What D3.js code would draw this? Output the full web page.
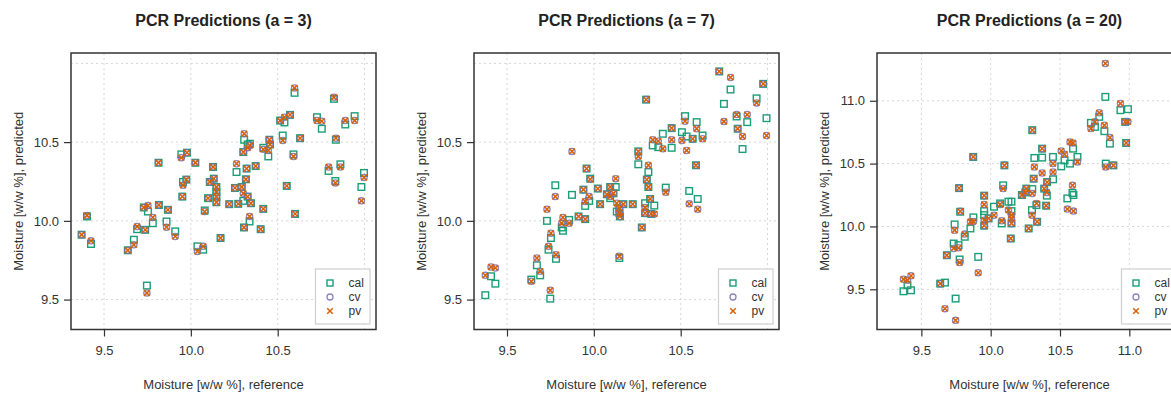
<!DOCTYPE html>
<html><head><meta charset="utf-8">
<script src="https://cdn.jsdelivr.net/npm/d3@7"></script>
<style>
body{margin:0;background:#fff}
svg{display:block}
text{font-family:"Liberation Sans",Arial,Helvetica,sans-serif}
</style>
</head><body>
<svg id="chart" width="1171" height="395"></svg>
<script>
// ---------- data ----------
const seriesNames = ["cal", "cv", "pv"];
const titles = ["PCR Predictions (a = 3)", "PCR Predictions (a = 7)", "PCR Predictions (a = 20)"];
const xLabel = "Moisture [w/w %], reference";
const yLabel = "Moisture [w/w %], predicted";
const ticksSmall = [9.5, 10.0, 10.5];
const ticksLarge = [9.5, 10.0, 10.5, 11.0];
const gridValues = [9.5, 10.0, 10.5, 11.0];

// a = 3
const ref3 = [10.597,10.824,10.514,10.539,10.571,10.726,10.754,10.889,10.943,10.307,10.340,10.302,10.327,10.417,10.446,10.452,10.456,10.529,10.629,10.591,10.835,10.793,10.861,10.997,10.982,10.832,10.552,9.814,9.945,9.978,10.026,10.128,10.263,10.321,10.373,10.317,9.955,9.974,10.109,10.132,10.147,10.254,10.293,9.951,10.099,10.147,10.147,10.147,10.221,10.273,10.302,10.327,10.346,10.417,10.338,10.306,10.402,10.600,9.402,9.371,9.425,9.637,9.672,9.691,9.737,9.729,9.753,9.781,9.816,9.868,9.860,9.910,10.038,10.071,10.080,10.171,9.747];
const cal3 = [10.813,10.775,10.637,10.625,10.673,10.658,10.585,10.612,10.665,10.515,10.490,10.437,10.485,10.464,10.409,10.515,10.485,10.542,10.525,10.422,10.515,10.317,10.359,10.304,10.215,10.253,10.222,10.369,10.422,10.433,10.369,10.342,10.310,10.332,10.348,10.264,10.247,10.262,10.247,10.268,10.215,10.209,10.215,10.154,10.144,10.182,10.154,10.118,10.106,10.108,10.127,10.154,10.112,10.076,9.996,9.958,9.947,10.044,10.028,9.912,9.853,9.813,9.880,9.947,9.943,10.085,10.059,9.985,10.101,10.070,9.996,9.933,9.838,9.817,10.066,9.891,9.589];
const cv3 = [10.844,10.785,10.637,10.658,10.673,10.637,10.633,10.637,10.637,10.553,10.479,10.437,10.464,10.454,10.447,10.515,10.485,10.511,10.525,10.409,10.525,10.342,10.342,10.275,10.127,10.241,10.222,10.369,10.401,10.433,10.369,10.342,10.363,10.332,10.348,10.264,10.226,10.262,10.247,10.268,10.215,10.209,10.215,10.154,10.144,10.182,10.154,10.118,10.106,10.108,10.175,10.154,10.112,10.076,10.028,9.958,9.947,10.044,10.034,9.912,9.873,9.813,9.848,9.964,9.943,10.085,10.097,10.022,10.101,10.070,9.960,9.901,9.806,9.838,10.059,9.891,9.542];
const pv3 = [10.844,10.785,10.637,10.658,10.673,10.637,10.633,10.637,10.637,10.553,10.479,10.437,10.464,10.454,10.447,10.515,10.485,10.511,10.525,10.409,10.525,10.342,10.342,10.275,10.127,10.241,10.222,10.369,10.401,10.433,10.369,10.342,10.363,10.332,10.348,10.264,10.226,10.262,10.247,10.268,10.215,10.209,10.215,10.154,10.144,10.182,10.154,10.118,10.106,10.108,10.175,10.154,10.112,10.076,10.028,9.958,9.947,10.044,10.034,9.912,9.873,9.813,9.848,9.964,9.943,10.085,10.097,10.022,10.101,10.070,9.960,9.901,9.806,9.838,10.059,9.891,9.542];

// a = 7
const ref7 = [10.722,10.787,10.975,10.749,10.937,10.822,10.883,10.994,10.828,10.856,10.301,9.874,10.525,10.592,10.448,10.397,10.339,10.371,10.448,10.507,10.534,10.569,10.626,10.588,10.256,10.256,10.314,10.305,10.314,9.958,9.979,9.778,10.126,9.940,10.023,10.094,10.414,10.549,9.730,9.822,9.815,9.858,9.912,9.950,9.950,9.973,10.036,10.075,10.094,10.113,10.132,10.147,10.147,10.150,10.170,10.224,10.295,10.295,10.324,10.330,10.348,10.276,10.147,10.598,9.753,9.739,9.782,9.672,9.691,9.640,9.749,9.375,9.408,9.433];
const cal7 = [10.949,10.834,10.870,10.743,10.778,10.663,10.627,10.652,10.585,10.456,10.770,10.165,10.665,10.627,10.589,10.553,10.479,10.468,10.464,10.563,10.536,10.521,10.542,10.353,10.441,10.359,10.310,10.262,10.215,10.332,10.268,10.226,10.215,10.198,10.205,10.215,10.211,10.190,10.000,9.937,9.958,10.006,10.028,10.011,10.095,10.127,10.106,10.169,10.144,10.175,10.059,10.080,10.049,10.028,10.106,10.106,10.112,10.049,10.139,10.044,10.097,9.958,9.764,10.139,9.891,9.817,9.759,9.718,9.654,9.627,9.506,9.528,9.648,9.601];
const cv7 = [10.949,10.911,10.870,10.631,10.749,10.675,10.675,10.542,10.585,10.536,10.770,10.441,10.633,10.585,10.589,10.458,10.515,10.506,10.515,10.511,10.447,10.521,10.521,10.353,10.441,10.409,10.353,10.262,10.215,10.332,10.264,10.154,10.268,10.198,10.205,10.215,10.182,10.108,10.074,10.022,9.985,9.985,10.028,10.011,10.123,10.154,10.106,10.169,10.154,10.175,10.112,10.080,10.049,10.028,10.106,10.106,10.085,10.049,10.139,10.044,10.044,9.958,9.775,10.074,9.922,9.838,9.785,9.764,9.680,9.616,9.559,9.654,9.707,9.701];
const pv7 = [10.949,10.911,10.870,10.631,10.749,10.675,10.675,10.542,10.585,10.536,10.770,10.441,10.633,10.585,10.589,10.458,10.515,10.506,10.515,10.511,10.447,10.521,10.521,10.353,10.441,10.409,10.353,10.262,10.215,10.332,10.264,10.154,10.268,10.198,10.205,10.215,10.182,10.108,10.074,10.022,9.985,9.985,10.028,10.011,10.123,10.154,10.106,10.169,10.154,10.175,10.112,10.080,10.049,10.028,10.106,10.106,10.085,10.049,10.139,10.044,10.044,9.958,9.775,10.074,9.922,9.838,9.785,9.764,9.680,9.616,9.559,9.654,9.707,9.701];

// a = 20
const ref20 = [10.827,10.820,10.860,10.936,10.990,10.970,10.977,10.783,10.723,10.752,10.830,10.885,10.300,9.874,10.099,10.371,10.315,10.371,10.449,10.509,10.533,10.572,10.594,10.626,10.590,10.310,10.407,10.450,10.090,9.772,10.257,10.386,9.371,9.425,9.400,9.636,9.670,9.747,9.910,9.684,9.733,9.768,9.776,9.740,9.780,9.813,9.854,9.875,9.953,9.953,9.953,9.953,9.985,10.024,10.068,10.080,10.128,10.150,10.150,10.150,10.145,10.274,10.335,10.298,10.330,10.400,10.225,10.250,10.300,10.405,10.553,10.597];
const cal20 = [11.031,10.758,10.659,10.925,10.933,10.832,10.664,10.872,10.824,10.792,10.500,10.486,10.766,10.553,10.486,10.619,10.545,10.548,10.553,10.478,10.526,10.500,10.619,10.553,10.266,10.380,10.353,10.375,10.327,10.305,10.301,10.301,9.484,9.492,9.532,9.545,9.553,9.426,9.758,9.771,9.864,9.851,9.737,10.016,10.117,9.918,9.984,10.072,10.245,10.090,10.122,10.006,10.064,10.157,10.183,10.024,10.197,10.197,10.122,10.024,9.904,9.984,10.037,10.130,10.170,10.165,10.250,10.271,10.297,10.245,10.223,10.250];
const cv20 = [11.297,10.805,10.707,10.978,10.832,10.832,10.664,10.904,10.779,10.832,10.473,10.486,10.766,10.553,10.486,10.619,10.473,10.425,10.500,10.601,10.574,10.672,10.664,10.513,10.327,10.380,10.353,10.433,10.301,10.305,10.301,10.301,9.580,9.607,9.572,9.545,9.346,9.253,9.631,9.771,9.825,9.830,9.713,9.970,10.120,9.939,10.037,10.040,10.245,10.175,10.050,10.006,10.064,10.090,10.175,10.045,10.130,10.090,10.064,10.024,9.904,9.984,10.037,10.090,10.183,10.165,10.250,10.271,10.263,10.271,10.138,10.122];
const pv20 = [11.297,10.805,10.707,10.978,10.832,10.832,10.664,10.904,10.779,10.832,10.473,10.486,10.766,10.553,10.486,10.619,10.473,10.425,10.500,10.601,10.574,10.672,10.664,10.513,10.327,10.380,10.353,10.433,10.301,10.305,10.301,10.301,9.580,9.607,9.572,9.545,9.346,9.253,9.631,9.771,9.825,9.830,9.713,9.970,10.120,9.939,10.037,10.040,10.245,10.175,10.050,10.006,10.064,10.090,10.175,10.045,10.130,10.090,10.064,10.024,9.904,9.984,10.037,10.090,10.183,10.165,10.250,10.271,10.263,10.271,10.138,10.122];

const limits7 = [9.31, 11.066];
const limits20 = [9.18, 11.38];

// ---------- layout / style ----------
const colors = {cal: "#1B9E77", cv: "#7570B3", pv: "#D95F02"};
const panelDefs = [
  {title: titles[0], ref: ref3, cal: cal3, cv: cv3, pv: pv3, x0: 71, lim: limits7, ticks: ticksSmall},
  {title: titles[1], ref: ref7, cal: cal7, cv: cv7, pv: pv7, x0: 474, lim: limits7, ticks: ticksSmall},
  {title: titles[2], ref: ref20, cal: cal20, cv: cv20, pv: pv20, x0: 877, lim: limits20, ticks: ticksLarge}
];
const plotW = 305, plotTop = 53, plotBottom = 329.5;

const svg = d3.select("#chart");
svg.append("rect").attr("width", 1171).attr("height", 395).attr("fill", "#fff");

panelDefs.forEach(p => {
  const x = d3.scaleLinear().domain(p.lim).range([p.x0, p.x0 + plotW]);
  const y = d3.scaleLinear().domain(p.lim).range([plotBottom, plotTop]);
  const g = svg.append("g");
  const cx = p.x0 + plotW / 2;

  // title
  g.append("text").attr("x", cx).attr("y", 26).attr("text-anchor", "middle")
    .attr("font-size", 16).attr("font-weight", "bold").attr("fill", "#222").text(p.title);

  // grid
  const gv = gridValues.filter(v => v > p.lim[0] && v < p.lim[1]);
  g.selectAll(".gx").data(gv).enter().append("line")
    .attr("x1", d => x(d)).attr("x2", d => x(d)).attr("y1", plotTop).attr("y2", plotBottom)
    .attr("stroke", "#d6d6d6").attr("stroke-width", 1).attr("stroke-dasharray", "2,3");
  g.selectAll(".gy").data(gv).enter().append("line")
    .attr("y1", d => y(d)).attr("y2", d => y(d)).attr("x1", p.x0).attr("x2", p.x0 + plotW)
    .attr("stroke", "#d6d6d6").attr("stroke-width", 1).attr("stroke-dasharray", "2,3");

  // axes
  const xAxis = d3.axisBottom(x).tickValues(p.ticks).tickFormat(d3.format(".1f")).tickSize(7).tickPadding(9);
  const yAxis = d3.axisLeft(y).tickValues(p.ticks).tickFormat(d3.format(".1f")).tickSize(7).tickPadding(5);
  const gx = g.append("g").attr("transform", `translate(0,${plotBottom})`).call(xAxis);
  const gy = g.append("g").attr("transform", `translate(${p.x0},0)`).call(yAxis);
  [gx, gy].forEach(a => {
    a.select(".domain").remove();
    a.selectAll(".tick line").attr("stroke", "#333").attr("stroke-width", 1.2);
    a.selectAll(".tick text").attr("font-size", 13).attr("fill", "#333")
      .attr("font-family", "'Liberation Sans',Arial,sans-serif");
  });

  // axis labels
  g.append("text").attr("x", cx).attr("y", 389).attr("text-anchor", "middle")
    .attr("font-size", 13).attr("fill", "#333").text(xLabel);
  g.append("text").attr("transform", `translate(${p.x0 - 48.5},${(plotTop + plotBottom) / 2}) rotate(-90)`)
    .attr("text-anchor", "middle").attr("font-size", 13).attr("fill", "#333").text(yLabel);

  // points
  const clipId = "clip" + p.x0;
  svg.append("clipPath").attr("id", clipId).append("rect")
    .attr("x", p.x0).attr("y", plotTop).attr("width", plotW).attr("height", plotBottom - plotTop);
  const pts = g.append("g").attr("clip-path", `url(#${clipId})`);
  const s = 3.3;
  pts.selectAll(".cal").data(p.ref.map((r, i) => [r, p.cal[i]])).enter().append("rect")
    .attr("x", d => x(d[0]) - s).attr("y", d => y(d[1]) - s).attr("width", 2 * s).attr("height", 2 * s)
    .attr("fill", "none").attr("stroke", colors.cal).attr("stroke-width", 1.4);
  pts.selectAll(".cv").data(p.ref.map((r, i) => [r, p.cv[i]])).enter().append("circle")
    .attr("cx", d => x(d[0])).attr("cy", d => y(d[1])).attr("r", 3.1)
    .attr("fill", "none").attr("stroke", colors.cv).attr("stroke-width", 1.3).attr("opacity", 0.85);
  const h = 2.9;
  pts.selectAll(".pv").data(p.ref.map((r, i) => [r, p.pv[i]])).enter().append("path")
    .attr("d", d => {
      const px = x(d[0]), py = y(d[1]);
      return `M${px - h},${py - h}L${px + h},${py + h}M${px - h},${py + h}L${px + h},${py - h}`;
    })
    .attr("stroke", colors.pv).attr("stroke-width", 1.5).attr("fill", "none");

  // box
  g.append("rect").attr("x", p.x0).attr("y", plotTop).attr("width", plotW).attr("height", plotBottom - plotTop)
    .attr("fill", "none").attr("stroke", "#333").attr("stroke-width", 1.5);

  // legend
  const lx = p.x0 + plotW - 60.5, ly = plotBottom - 60.5;
  const lg = g.append("g").attr("transform", `translate(${lx},${ly})`);
  lg.append("rect").attr("width", 54.5).attr("height", 55).attr("fill", "#fff")
    .attr("stroke", "#cfcfcf").attr("stroke-width", 1.2);
  seriesNames.forEach((name, i) => {
    const ry = 14 + i * 14;
    const mx = 14.5;
    if (name === "cal") {
      lg.append("rect").attr("x", mx - 3).attr("y", ry - 3).attr("width", 6).attr("height", 6)
        .attr("fill", "none").attr("stroke", colors.cal).attr("stroke-width", 1.4);
    } else if (name === "cv") {
      lg.append("circle").attr("cx", mx).attr("cy", ry).attr("r", 3)
        .attr("fill", "none").attr("stroke", colors.cv).attr("stroke-width", 1.3).attr("opacity", 0.85);
    } else {
      lg.append("path").attr("d", `M${mx - 2.8},${ry - 2.8}L${mx + 2.8},${ry + 2.8}M${mx - 2.8},${ry + 2.8}L${mx + 2.8},${ry - 2.8}`)
        .attr("stroke", colors.pv).attr("stroke-width", 1.5);
    }
    lg.append("text").attr("x", 33).attr("y", ry).attr("dy", "0.35em")
      .attr("font-size", 12).attr("fill", "#333").text(name);
  });
});
</script>
</body></html>
